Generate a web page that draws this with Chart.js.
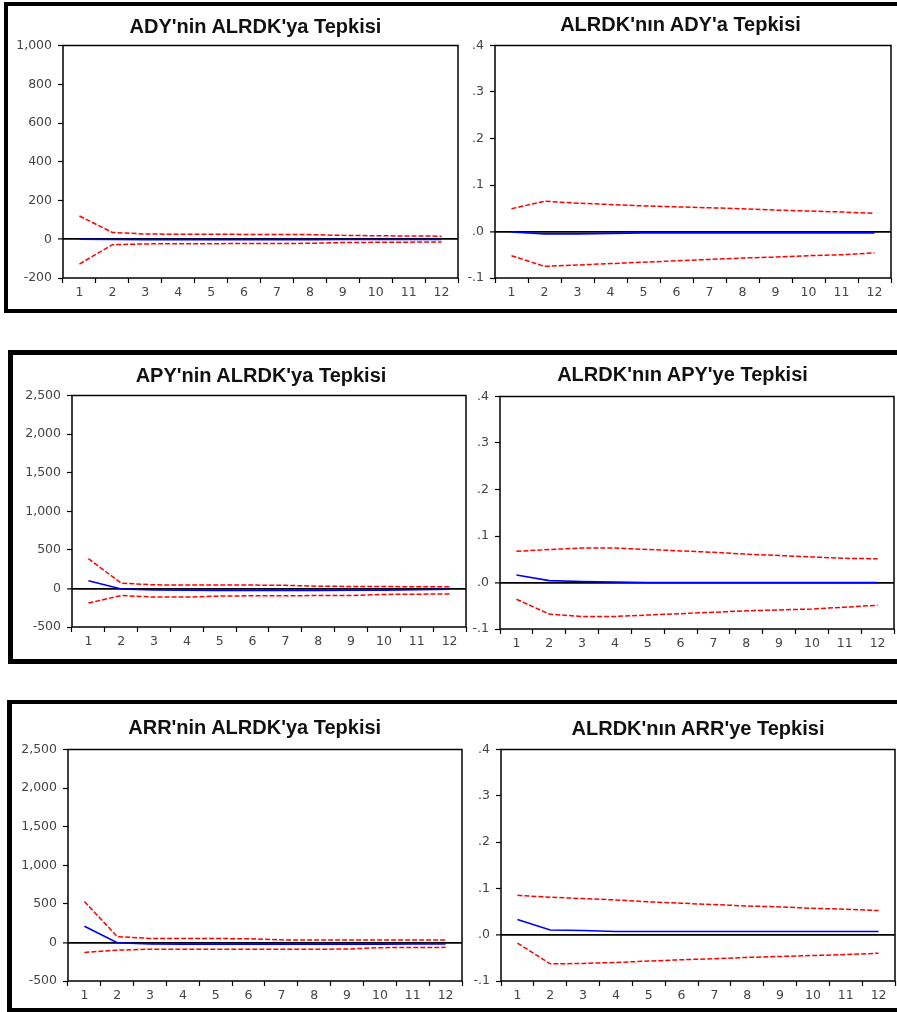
<!DOCTYPE html>
<html>
<head>
<meta charset="utf-8">
<script src="https://cdn.jsdelivr.net/npm/chart.js@4.4.1/dist/chart.umd.min.js"></script>
<style>
  html, body { margin: 0; padding: 0; background: #fff; width: 897px; height: 1012px; overflow: hidden; position: relative; }
  .panel { position: absolute; border-style: solid; border-color: #000; border-right: none; box-sizing: border-box; width: 1000px; }
  .title { position: absolute; font: bold 20px "Liberation Sans", Arial, sans-serif; line-height: 20px; white-space: nowrap; transform: translateX(-50%); color: #111; }
  canvas { position: absolute; }
</style>
</head>
<body>
<div class="panel" style="left:4px;top:2px;height:311px;border-width:4px 0 4px 4px;"></div>
<div class="panel" style="left:8px;top:350px;height:314px;border-width:5px 0 5px 5px;"></div>
<div class="panel" style="left:7px;top:700px;height:312px;border-width:4px 0 4px 5px;"></div>

<script>
// Impulse-response horizons
const periods = ['1', '2', '3', '4', '5', '6', '7', '8', '9', '10', '11', '12'];

// Y-axis tick values
const ticksAdy   = [-200, 0, 200, 400, 600, 800, 1000];
const ticksLevel = [-500, 0, 500, 1000, 1500, 2000, 2500];
const ticksRate  = [-0.1, 0, 0.1, 0.2, 0.3, 0.4];

// ADY'nin ALRDK'ya Tepkisi
const adyResp  = [0, -1, -2, -2, -2, -2, -2, -2, -1, -1, -1, -1];
const adyUpper = [120, 35, 27, 26, 26, 25, 25, 24, 20, 18, 17, 16];
const adyLower = [-128, -28, -24, -23, -23, -22, -22, -21, -17, -16, -15, -14];

// ALRDK'nın ADY'a Tepkisi
const alrdkAdyResp  = [-0.001, -0.005, -0.005, -0.004, -0.003, -0.003, -0.003, -0.003, -0.003, -0.003, -0.003, -0.003];
const alrdkAdyUpper = [0.049, 0.065, 0.061, 0.058, 0.055, 0.053, 0.051, 0.049, 0.046, 0.044, 0.042, 0.039];
const alrdkAdyLower = [-0.052, -0.075, -0.072, -0.069, -0.066, -0.063, -0.060, -0.057, -0.055, -0.052, -0.050, -0.046];

// APY'nin ALRDK'ya Tepkisi
const apyResp  = [100, -8, -20, -24, -25, -25, -25, -25, -24, -22, -18, -10];
const apyUpper = [385, 68, 46, 45, 44, 43, 40, 28, 26, 24, 22, 20];
const apyLower = [-190, -92, -112, -112, -100, -95, -94, -93, -92, -78, -75, -72];

// ALRDK'nın APY'ye Tepkisi
const alrdkApyResp  = [0.016, 0.004, 0.002, 0.001, 0, 0, 0, 0, 0, 0, 0, 0];
const alrdkApyUpper = [0.067, 0.071, 0.074, 0.074, 0.071, 0.068, 0.065, 0.061, 0.058, 0.055, 0.052, 0.051];
const alrdkApyLower = [-0.036, -0.068, -0.073, -0.073, -0.070, -0.067, -0.064, -0.061, -0.059, -0.057, -0.053, -0.049];

// ARR'nin ALRDK'ya Tepkisi
const arrResp  = [210, -5, -20, -22, -22, -22, -22, -22, -22, -22, -21, -20];
const arrUpper = [530, 75, 52, 51, 50, 48, 33, 32, 31, 30, 30, 30];
const arrLower = [-130, -100, -88, -88, -88, -88, -88, -88, -86, -68, -66, -64];

// ALRDK'nın ARR'ye Tepkisi
const alrdkArrResp  = [0.033, 0.010, 0.009, 0.007, 0.007, 0.007, 0.007, 0.007, 0.007, 0.007, 0.007, 0.007];
const alrdkArrUpper = [0.085, 0.081, 0.078, 0.075, 0.071, 0.068, 0.065, 0.062, 0.060, 0.057, 0.055, 0.052];
const alrdkArrLower = [-0.018, -0.063, -0.062, -0.060, -0.057, -0.054, -0.052, -0.049, -0.047, -0.045, -0.043, -0.040];

const fmtThousands = v => Math.round(v).toLocaleString('en-US');
const fmtRate = v => {
  const t = Math.round(Math.abs(v) * 10);
  return (v < -1e-9 ? '-' : '') + '.' + t;
};

// Layout of each graph: plot box [left, top, right, bottom], title anchor
const graphs = [
  { title: "ADY'nin ALRDK'ya Tepkisi", tx: 255.5, ty: 15.5, box: [63, 42, 458, 278], yW: 50,
    ticks: ticksAdy, fmt: fmtThousands, resp: adyResp, upper: adyUpper, lower: adyLower },
  { title: "ALRDK'nın ADY'a Tepkisi", tx: 680.5, ty: 14.2, box: [495, 42, 891, 278], yW: 40,
    ticks: ticksRate, fmt: fmtRate, resp: alrdkAdyResp, upper: alrdkAdyUpper, lower: alrdkAdyLower },
  { title: "APY'nin ALRDK'ya Tepkisi", tx: 261, ty: 364.8, box: [72, 392, 466, 627], yW: 50,
    ticks: ticksLevel, fmt: fmtThousands, resp: apyResp, upper: apyUpper, lower: apyLower },
  { title: "ALRDK'nın APY'ye Tepkisi", tx: 682.5, ty: 364.4, box: [500, 393, 894, 629], yW: 40,
    ticks: ticksRate, fmt: fmtRate, resp: alrdkApyResp, upper: alrdkApyUpper, lower: alrdkApyLower },
  { title: "ARR'nin ALRDK'ya Tepkisi", tx: 254.7, ty: 717.4, box: [68, 746, 462, 981], yW: 50,
    ticks: ticksLevel, fmt: fmtThousands, resp: arrResp, upper: arrUpper, lower: arrLower },
  { title: "ALRDK'nın ARR'ye Tepkisi", tx: 698, ty: 718.4, box: [501, 746, 895, 981], yW: 40,
    ticks: ticksRate, fmt: fmtRate, resp: alrdkArrResp, upper: alrdkArrUpper, lower: alrdkArrLower }
];

// Closed frame around the plotting area
const framePlugin = {
  id: 'plotFrame',
  afterDatasetsDraw(chart) {
    const { ctx, chartArea: a } = chart;
    ctx.save();
    ctx.strokeStyle = '#000';
    ctx.lineWidth = 1.5;
    ctx.strokeRect(a.left, a.top, a.right - a.left, a.bottom - a.top);
    ctx.restore();
  }
};

const PAD_TOP = 10, X_H = 30, PAD_RIGHT = 3, PAD_BOTTOM = 2;
const isZero = v => Math.abs(v) < 1e-9;
const tickFont = { family: 'DejaVu Sans', size: 12.5 };

graphs.forEach(g => {
  const [L, T, R, B] = g.box;
  const canvas = document.createElement('canvas');
  const w = g.yW + (R - L) + PAD_RIGHT;
  const h = PAD_TOP + (B - T) + X_H + PAD_BOTTOM;
  canvas.width = w; canvas.height = h;
  canvas.style.left = (L - g.yW) + 'px';
  canvas.style.top = (T - PAD_TOP) + 'px';
  canvas.style.width = w + 'px';
  canvas.style.height = h + 'px';
  document.body.appendChild(canvas);

  const title = document.createElement('div');
  title.className = 'title';
  title.textContent = g.title;
  title.style.left = g.tx + 'px';
  title.style.top = g.ty + 'px';
  document.body.appendChild(title);

  const step = g.ticks[1] - g.ticks[0];
  const red = { borderColor: '#ff0000', borderWidth: 1.5, borderDash: [5, 2], pointRadius: 0, tension: 0, fill: false };

  new Chart(canvas, {
    type: 'line',
    data: {
      labels: periods,
      datasets: [
        Object.assign({ label: 'upper', data: g.upper }, red),
        Object.assign({ label: 'lower', data: g.lower }, red),
        { label: 'response', data: g.resp, borderColor: '#0000ff', borderWidth: 1.6, pointRadius: 0, tension: 0, fill: false }
      ]
    },
    options: {
      responsive: false,
      animation: false,
      devicePixelRatio: 1,
      layout: { padding: { top: PAD_TOP, left: 0, right: PAD_RIGHT, bottom: PAD_BOTTOM } },
      plugins: { legend: { display: false }, tooltip: { enabled: false }, title: { display: false } },
      scales: {
        x: {
          type: 'category',
          offset: true,
          afterFit: s => { s.height = X_H; },
          border: { display: false },
          grid: { offset: true, drawOnChartArea: false, drawTicks: true, tickLength: 5, tickColor: '#000', tickWidth: 1.2 },
          ticks: { color: '#444', padding: 2.5, maxRotation: 0, autoSkip: false, font: tickFont }
        },
        y: {
          min: g.ticks[0],
          max: g.ticks[g.ticks.length - 1],
          afterFit: s => { s.width = g.yW; },
          border: { display: false },
          grid: {
            drawOnChartArea: true,
            drawTicks: true,
            tickLength: 5,
            tickColor: '#000',
            tickWidth: 1.2,
            color: c => (c.tick && isZero(c.tick.value)) ? '#000' : 'rgba(0,0,0,0)',
            lineWidth: c => (c.tick && isZero(c.tick.value)) ? 1.8 : 1
          },
          ticks: {
            stepSize: step,
            color: '#444',
            padding: 6,
            font: tickFont,
            callback: v => g.fmt(v)
          }
        }
      }
    },
    plugins: [framePlugin]
  });
});
</script>
</body>
</html>
